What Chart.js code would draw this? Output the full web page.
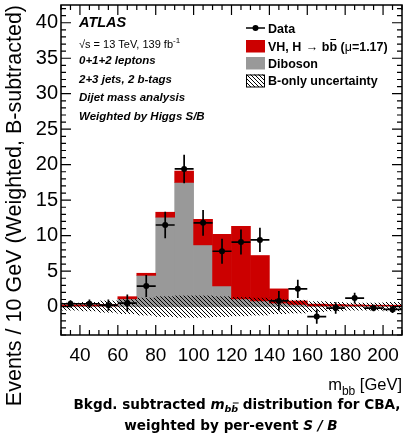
<!DOCTYPE html>
<html><head><meta charset="utf-8">
<script src="https://cdn.jsdelivr.net/npm/chart.js@4.4.1/dist/chart.umd.min.js"></script>
<style>html,body{margin:0;padding:0;background:#fff}canvas{display:block}</style>
</head><body>
<canvas id="c" width="406" height="439"></canvas>
<script>
// bin centres (10 GeV bins, 30-210 GeV)
const binCenters=[35,45,55,65,75,85,95,105,115,125,135,145,155,165,175,185,195,205];
// stacked histograms
const diboson=[0.1,0.1,0.1,1.1,4.4,12.6,17.5,8.7,2.9,1.1,0.8,0.5,0.3,0.1,0.1,0.1,0.1,0.1];
const vhSignal=[0.15,0.15,0.2,0.3,0.3,0.7,1.6,3.6,7.3,10.2,6.4,2.0,0.5,0.25,0.2,0.15,0.1,0.1];
// B-only uncertainty band (half width around 0)
const bandUnc=[0.5,0.6,0.8,1.0,1.2,1.4,1.5,1.5,1.4,1.3,1.2,1.0,0.9,0.7,0.6,0.5,0.5,0.6];
// background-subtracted data
const dataY=[0.4,0.4,0.2,0.5,2.9,11.5,19.4,11.8,7.8,9.1,9.4,0.8,2.5,-1.4,-0.2,1.2,-0.2,-0.4];
const dataErr=[0.5,0.6,0.8,1.2,1.55,1.85,2.0,1.8,1.75,1.75,1.7,1.4,1.3,1.0,0.8,0.75,0.45,0.5];
const xTicks=[40,60,80,100,120,140,160,180,200];
const yTicks=[0,5,10,15,20,25,30,35,40];

const FF='"Liberation Sans", Arial, sans-serif';
const DJ='"DejaVu Sans", sans-serif';
const RED='#cc0000', GREY='#999999';

// hatch pattern  \\\\
function makeHatch(){
  const s=4,cv=document.createElement('canvas');cv.width=s;cv.height=s;
  const g=cv.getContext('2d');g.strokeStyle='#000';g.lineWidth=1;
  for(let k=-1;k<=1;k++){g.beginPath();g.moveTo(k*s,0);g.lineTo(k*s+s,s);g.stroke();}
  return document.getElementById('c').getContext('2d').createPattern(cv,'repeat');
}
const hatch=makeHatch();

// error bars + markers on data
const errBars={id:'errBars',afterDatasetsDraw(c){
  const x=c.scales.x,y=c.scales.y,ctx=c.ctx;
  ctx.save();ctx.strokeStyle='#000';ctx.lineWidth=1.7;
  binCenters.forEach((v,i)=>{
    const px=x.getPixelForValue(v),py=y.getPixelForValue(dataY[i]);
    ctx.beginPath();
    ctx.moveTo(x.getPixelForValue(v-5),py);ctx.lineTo(x.getPixelForValue(v+5),py);
    ctx.moveTo(px,y.getPixelForValue(dataY[i]-dataErr[i]));ctx.lineTo(px,y.getPixelForValue(dataY[i]+dataErr[i]));
    ctx.stroke();
    ctx.beginPath();ctx.arc(px,py,3,0,Math.PI*2);ctx.fillStyle='#000';ctx.fill();
  });
  ctx.restore();
}};

// frame with inward ticks on all sides
const frame={id:'frame',afterDraw(c){
  const a=c.chartArea,x=c.scales.x,y=c.scales.y,ctx=c.ctx;
  ctx.save();ctx.strokeStyle='#000';ctx.lineWidth=1.2;
  ctx.beginPath();
  for(let v=30;v<=210;v+=5){
    const px=x.getPixelForValue(v),L=(v%20===0)?10:5;
    ctx.moveTo(px,a.bottom);ctx.lineTo(px,a.bottom-L);
    ctx.moveTo(px,a.top);ctx.lineTo(px,a.top+L);
  }
  for(let v=-4;v<=42;v++){
    const py=y.getPixelForValue(v),L=(v%5===0)?10:5;
    ctx.moveTo(a.left,py);ctx.lineTo(a.left+L,py);
    ctx.moveTo(a.right,py);ctx.lineTo(a.right-L,py);
  }
  ctx.stroke();
  ctx.lineWidth=1.5;ctx.strokeRect(a.left,a.top,a.right-a.left,a.bottom-a.top);
  ctx.restore();
}};

function put(ctx,s,x,y,font){ctx.font=font;ctx.fillText(s,x,y);return x+ctx.measureText(s).width;}
function wid(ctx,s,font){ctx.font=font;return ctx.measureText(s).width;}

// labels, legend, titles
const texts={id:'texts',afterDraw(c){
  const ctx=c.ctx;ctx.save();ctx.fillStyle='#000';ctx.textBaseline='alphabetic';ctx.textAlign='left';
  const bi='bold italic 11.5px '+FF;
  put(ctx,'ATLAS',79,27,'bold italic 14.5px '+FF);
  let xx=put(ctx,'\u221As = 13 TeV, 139 fb',79,48,'11px '+FF);
  put(ctx,'-1',xx,43,'8px '+FF);
  put(ctx,'0+1+2 leptons',79,64,bi);
  put(ctx,'2+3 jets, 2 b-tags',79,83,bi);
  put(ctx,'Dijet mass analysis',79,101,bi);
  put(ctx,'Weighted by Higgs S/B',79,120,bi);

  // legend
  const lf='bold 12.5px '+FF,lx=246,tx=268;
  ctx.strokeStyle='#000';ctx.lineWidth=1.5;
  ctx.beginPath();ctx.moveTo(lx,28);ctx.lineTo(lx+19,28);ctx.stroke();
  ctx.beginPath();ctx.arc(lx+9.5,28,3,0,Math.PI*2);ctx.fill();
  put(ctx,'Data',tx,32.5,lf);
  ctx.fillStyle=RED;ctx.fillRect(lx,40,19,12.5);ctx.fillStyle='#000';
  xx=put(ctx,'VH, H ',tx,50.5,lf);
  xx=put(ctx,'\u2192',xx+1,50.5,'12.5px '+FF);
  xx=put(ctx,' b',xx,50.5,lf);
  const bw=wid(ctx,'b',lf);
  put(ctx,'b',xx,50.5,lf);
  ctx.lineWidth=1;ctx.beginPath();ctx.moveTo(xx+1,39.5);ctx.lineTo(xx+bw-1,39.5);ctx.stroke();
  xx+=bw;
  xx=put(ctx,' (',xx,50.5,lf);
  xx=put(ctx,'\u03bc',xx,50.5,'12.5px '+FF);
  put(ctx,'=1.17)',xx,50.5,lf);
  ctx.fillStyle=GREY;ctx.fillRect(lx,57,19,12.5);ctx.fillStyle='#000';
  put(ctx,'Diboson',tx,67.5,lf);
  ctx.fillStyle=hatch;ctx.fillRect(lx,74.5,19,12.5);
  ctx.fillStyle='#000';ctx.lineWidth=1;ctx.strokeRect(lx+0.5,75,18,12);
  put(ctx,'B-only uncertainty',tx,85,lf);

  // x title: m_bb [GeV], right aligned
  const f18='16.5px '+FF,f13='12px '+FF;
  const tw=wid(ctx,'m',f18)+wid(ctx,'bb',f13)+wid(ctx,' [GeV]',f18);
  xx=402-tw;
  xx=put(ctx,'m',xx,390,f18);
  xx=put(ctx,'bb',xx,395,f13);
  put(ctx,' [GeV]',xx,390,f18);

  // caption, scaled to the width it has in the figure
  const k=326/(wid(ctx,'Bkgd. subtracted m',"bold 10px "+DJ)+wid(ctx,'bb',"bold 7px "+DJ)+wid(ctx,' distribution for CBA,',"bold 10px "+DJ));
  const fs=(10*k).toFixed(1);
  const cb='bold '+fs+'px '+DJ,cbi='bold italic '+fs+'px '+DJ,cs='bold italic '+(0.7*fs).toFixed(1)+'px '+DJ;
  const w1=wid(ctx,'Bkgd. subtracted ',cb)+wid(ctx,'m',cbi)+wid(ctx,'bb',cs)+wid(ctx,' distribution for CBA,',cb);
  xx=237-w1/2;
  xx=put(ctx,'Bkgd. subtracted ',xx,409,cb);
  xx=put(ctx,'m',xx,409,cbi);
  xx=put(ctx,'b',xx,412,cs);
  const sw=wid(ctx,'b',cs);
  put(ctx,'b',xx,412,cs);
  ctx.lineWidth=1;ctx.beginPath();ctx.moveTo(xx+1.5,403);ctx.lineTo(xx+sw+0.5,403);ctx.stroke();
  xx+=sw;
  put(ctx,' distribution for CBA,',xx,409,cb);
  const w2=wid(ctx,'weighted by per-event ',cb)+wid(ctx,'S / B',cbi);
  xx=231-w2/2;
  xx=put(ctx,'weighted by per-event ',xx,430,cb);
  put(ctx,'S / B',xx,430,cbi);
  ctx.restore();
}};

Chart.defaults.color='#000';
Chart.defaults.font.family=FF;

new Chart(document.getElementById('c'),{
  type:'bar',
  data:{datasets:[
    {type:'scatter',label:'Data',data:binCenters.map((x,i)=>({x,y:dataY[i]})),pointRadius:0,order:0},
    {label:'B-only uncertainty',data:binCenters.map((x,i)=>({x,y:[-bandUnc[i],bandUnc[i]]})),backgroundColor:hatch,order:1},
    {label:'VH, H \u2192 bb (\u03bc=1.17)',data:binCenters.map((x,i)=>({x,y:[diboson[i],diboson[i]+vhSignal[i]]})),backgroundColor:RED,order:2},
    {label:'Diboson',data:binCenters.map((x,i)=>({x,y:[0,diboson[i]]})),backgroundColor:GREY,order:3}
  ]},
  options:{
    responsive:false,animation:false,devicePixelRatio:1,
    layout:{padding:{top:5,right:4,left:0,bottom:0}},
    datasets:{bar:{grouped:false,categoryPercentage:1,barPercentage:1,borderWidth:0}},
    plugins:{legend:{display:false},tooltip:{enabled:false}},
    scales:{
      x:{type:'linear',min:30,max:210,offset:false,
        grid:{display:false,offset:false},border:{display:false},
        ticks:{font:{size:19},padding:1,maxRotation:0,autoSkip:false},
        afterBuildTicks:s=>{s.ticks=xTicks.map(v=>({value:v}));},
        afterFit:s=>{s.height=104;s.paddingLeft=0;s.paddingRight=0;}},
      y:{type:'linear',min:-4,max:42.5,
        grid:{display:false,drawTicks:false},border:{display:false},
        ticks:{font:{size:20},padding:3,autoSkip:false},
        afterBuildTicks:s=>{s.ticks=yTicks.map(v=>({value:v}));},
        afterFit:s=>{s.width=61;s.paddingTop=0;s.paddingBottom=0;},
        title:{display:true,text:'Events / 10 GeV (Weighted, B-subtracted)',align:'end',
          font:{size:21.5},padding:{top:2,bottom:0}}}
    }
  },
  plugins:[errBars,frame,texts]
});
</script>
</body></html>
